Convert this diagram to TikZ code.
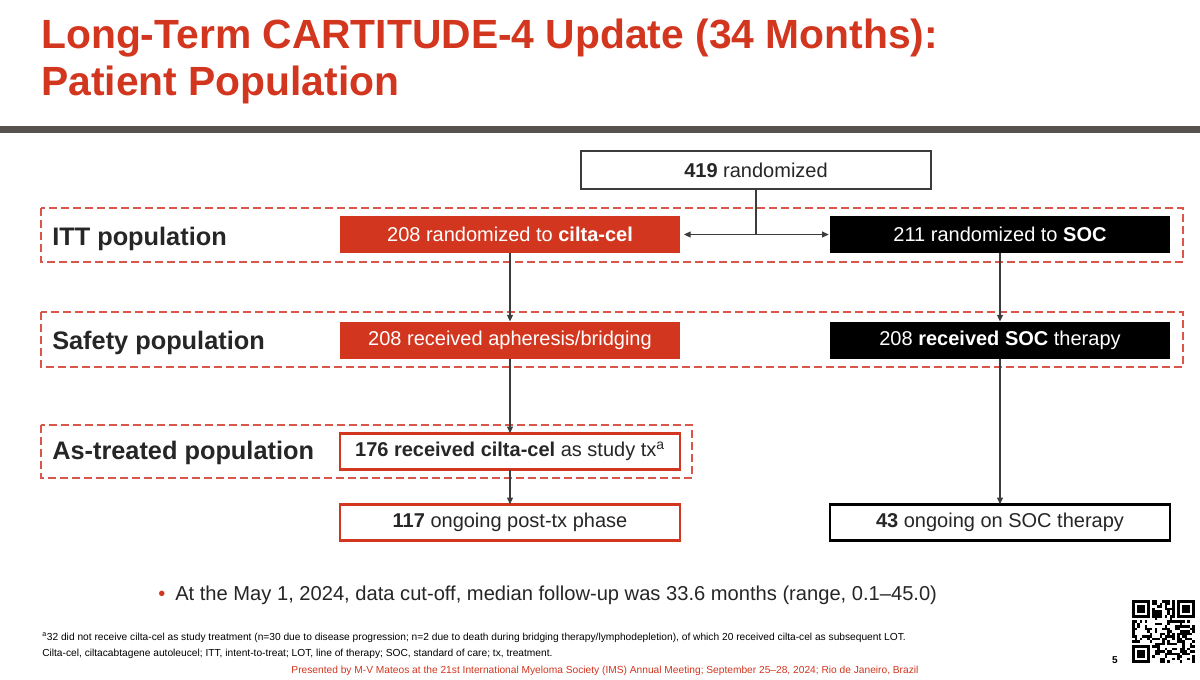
\documentclass[tikz,border=0pt]{standalone}
\usepackage{fontspec}
\setmainfont{Liberation Sans}
\usetikzlibrary{arrows.meta}
\definecolor{cred}{RGB}{210,54,30}
\definecolor{dred}{RGB}{218,86,74}
\definecolor{barc}{RGB}{88,82,78}
\definecolor{txt}{RGB}{38,38,38}
\definecolor{lin}{RGB}{60,60,60}
\begin{document}
\begin{tikzpicture}[x=0.75pt,y=-0.75pt,
  bx/.style={minimum width=255pt, minimum height=27.75pt, inner sep=0pt, outer sep=0pt, font=\fontsize{15}{18}\selectfont},
  redbox/.style={bx, fill=cred, text=white},
  blkbox/.style={bx, fill=black, text=white},
  redout/.style={bx, draw=cred, line width=2.2pt, fill=white, text=txt, minimum height=27.5pt},
  blkout/.style={bx, draw=black, line width=2.2pt, fill=white, text=txt, minimum height=27.5pt},
  topbox/.style={bx, draw=lin, line width=1pt, fill=white, text=txt, minimum width=262.5pt, minimum height=28.5pt},
  grp/.style={draw=dred, line width=0.9pt, dash pattern=on 6pt off 3pt},
  lbl/.style={anchor=base west, inner sep=0pt, text=txt, font=\fontsize{19}{22}\selectfont\bfseries},
  arr/.style={draw=lin, line width=0.8pt, -{Triangle[length=5pt,width=4.5pt]}},
  conn/.style={draw=lin, line width=0.8pt},
  ttl/.style={anchor=base west, inner sep=0pt, text=cred, font=\fontsize{30.6}{36}\selectfont\bfseries},
  fnote/.style={anchor=base west, inner sep=0pt, text=black, font=\fontsize{7.65}{9}\selectfont}
]
\useasboundingbox (0,0) rectangle (1200,679);
\fill[white] (0,0) rectangle (1200,679);
% title
\node[ttl] (t1) at (41,48) {Long-Term CARTITUDE-4 Update (34 Months):};
\node[ttl] (t2) at (41,95) {Patient Population};
\fill[barc] (0,126) rectangle (1200,133);
% group frames
\draw[grp] (41,208) rectangle (1183,262);
\draw[grp] (41,312) rectangle (1183,367);
\draw[grp] (41,425) rectangle (692,478);
% labels
\node[lbl] (l1) at (52,245) {ITT population};
\node[lbl] (l2) at (52,349) {Safety population};
\node[lbl] (l3) at (52,459) {As-treated population};
% boxes
\node[topbox] (n419) at (756,170) {\textbf{419} randomized};
\node[redbox] (rc1) at (510,234.5) {208 randomized to \textbf{cilta-cel}};
\node[blkbox] (bc1) at (1000,234.5) {211 randomized to \textbf{SOC}};
\node[redbox] (rc2) at (510,340) {208 received apheresis/bridging};
\node[blkbox] (bc2) at (1000,340) {208 \textbf{received SOC} therapy};
\node[redout] (rc3) at (510,451.5) {\textbf{176 received cilta-cel} as study tx\textsuperscript{a}};
\node[redout] (rc4) at (510,522.5) {\textbf{117} ongoing post-tx phase};
\node[blkout] (bc4) at (1000,522.5) {\textbf{43} ongoing on SOC therapy};
% connectors
\coordinate (j) at (n419.south |- rc1.east);
\draw[conn] (n419.south) -- (j);
\draw[arr, shorten >=3pt] (j) -- (rc1.east);
\draw[arr, shorten >=1pt] (j) -- (bc1.west);
\draw[arr] (rc1.south) -- (rc2.north);
\draw[arr] (bc1.south) -- (bc2.north);
\draw[arr] (rc2.south) -- (rc3.north);
\draw[arr] (rc3.south) -- (rc4.north);
\draw[arr] (bc2.south) -- (bc4.north);
% bullet
\node[anchor=base west, inner sep=0pt, text=cred, font=\fontsize{15}{18}\selectfont] (bul) at (158,600) {•};
\node[anchor=base west, inner sep=0pt, text=txt, font=\fontsize{15.1}{18}\selectfont] (btxt) at (175,600) {At the May 1, 2024, data cut-off, median follow-up was 33.6 months (range, 0.1–45.0)};
% footnotes
\node[fnote] (f1) at (42,640) {\textsuperscript{a}32 did not receive cilta-cel as study treatment (n=30 due to disease progression; n=2 due to death during bridging therapy/lymphodepletion), of which 20 received cilta-cel as subsequent LOT.};
\node[fnote] (f2) at (42,656) {Cilta-cel, ciltacabtagene autoleucel; ITT, intent-to-treat; LOT, line of therapy; SOC, standard of care; tx, treatment.};
\node[anchor=base, inner sep=0pt, text=cred, font=\fontsize{7.65}{9}\selectfont] (pres) at (605,673) {Presented by M-V Mateos at the 21st International Myeloma Society (IMS) Annual Meeting; September 25–28, 2024; Rio de Janeiro, Brazil};
\node[anchor=base, inner sep=0pt, text=black, font=\fontsize{7.5}{9}\selectfont\bfseries] (pg) at (1115,663) {5};
% QR code
\begin{scope}[shift={(1132,600)}]
  \pgfmathsetseed{4242}
  \foreach \i in {0,...,24}{
    \foreach \k in {0,...,24}{
      \pgfmathtruncatemacro\qv{rnd<0.48}
      \ifnum\qv=1
        \fill[black] (\i*2.5,\k*2.5) rectangle ++(2.5,2.5);
      \fi
    }
  }
  \foreach \ox/\oy in {0/0,45/0,0/45}{
    \fill[white] (\ox-2.5,\oy-2.5) rectangle ++(22.5,22.5);
    \fill[black] (\ox,\oy) rectangle ++(17.5,17.5);
    \fill[white] (\ox+2.5,\oy+2.5) rectangle ++(12.5,12.5);
    \fill[black] (\ox+5,\oy+5) rectangle ++(7.5,7.5);
  }
  \fill[white] (-2.6,-2.6) rectangle (0,65);
  \fill[white] (-2.6,-2.6) rectangle (65,0);
  \fill[white] (62.5,-2.6) rectangle (65,65);
  \fill[white] (-2.6,62.5) rectangle (65,65);
\end{scope}
\end{tikzpicture}
\end{document}
